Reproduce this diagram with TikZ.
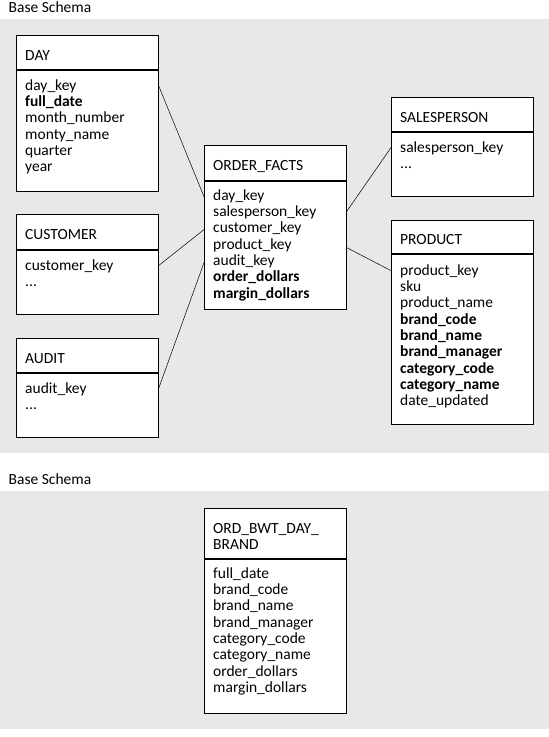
\documentclass[tikz,border=0pt]{standalone}
\usepackage{fontspec}
\setmainfont{Carlito}
\usetikzlibrary{positioning}
\definecolor{panelgray}{HTML}{E8E8E8}
\newcommand{\fstrut}{\rule{0pt}{12pt}}
\tikzset{
    tbox/.style={draw, line width=0.6pt, fill=white, anchor=north west,
        minimum width=142pt, inner sep=0pt},
    ttl/.style={anchor=north west, inner sep=0pt, align=left},
    fld/.style={anchor=north west, inner sep=0pt, align=left},
    link/.style={line width=0.5pt}
}
\begin{document}
\begin{tikzpicture}[x=1pt,y=1pt,font=\fontsize{15.5}{16.3}\selectfont]
    \useasboundingbox (0,0) rectangle (549,-737);
    \fill[panelgray] (0,-19) rectangle (549,-453);
    \fill[panelgray] (0,-491) rectangle (549,-729);
    \node[ttl, anchor=base west] (cap1) at (8.5,-12.5) {Base Schema};
    \node[ttl, anchor=base west] (cap2) at (8.5,-484) {Base Schema};

    % dimension tables on the left
    \node[tbox, minimum height=34pt] (day) at (16,-35) {};
    \node[tbox, minimum height=121pt, below=0pt of day] (dayb) {};
    \node[ttl] (dayt) at ([xshift=9pt,yshift=-13pt]day.north west) {\fstrut DAY};
    \node[fld] (dayf) at ([xshift=9pt,yshift=-8.5pt]dayb.north west)
        {\fstrut day\_key\\\textbf{full\_date}\\month\_number\\monty\_name\\quarter\\year};

    \node[tbox, minimum height=35pt] (cust) at (16,-214) {};
    \node[tbox, minimum height=64pt, below=0pt of cust] (custb) {};
    \node[ttl] (custt) at ([xshift=9pt,yshift=-13pt]cust.north west) {\fstrut CUSTOMER};
    \node[fld] (custf) at ([xshift=9pt,yshift=-8.5pt]custb.north west)
        {\fstrut customer\_key\\...};

    \node[tbox, minimum height=34pt] (audit) at (16,-338) {};
    \node[tbox, minimum height=64pt, below=0pt of audit] (auditb) {};
    \node[ttl] (auditt) at ([xshift=9pt,yshift=-13pt]audit.north west) {\fstrut AUDIT};
    \node[fld] (auditf) at ([xshift=9pt,yshift=-8.5pt]auditb.north west)
        {\fstrut audit\_key\\...};

    % fact table
    \node[tbox, minimum height=35pt] (facts) at (204,-145) {};
    \node[tbox, minimum height=128pt, below=0pt of facts] (factsb) {};
    \node[ttl] (factst) at ([xshift=9pt,yshift=-13pt]facts.north west) {\fstrut ORDER\_FACTS};
    \node[fld] (factsf) at ([xshift=9pt,yshift=-7.5pt]factsb.north west)
        {\fstrut day\_key\\salesperson\_key\\customer\_key\\product\_key\\audit\_key\\
         \textbf{order\_dollars}\\\textbf{margin\_dollars}};

    % dimension tables on the right
    \node[tbox, minimum height=34pt] (sales) at (391,-97) {};
    \node[tbox, minimum height=64pt, below=0pt of sales] (salesb) {};
    \node[ttl] (salest) at ([xshift=9pt,yshift=-13pt]sales.north west) {\fstrut SALESPERSON};
    \node[fld] (salesf) at ([xshift=9pt,yshift=-8.5pt]salesb.north west)
        {\fstrut salesperson\_key\\...};

    \node[tbox, minimum height=33pt] (prod) at (391,-220) {};
    \node[tbox, minimum height=170pt, below=0pt of prod] (prodb) {};
    \node[ttl] (prodt) at ([xshift=9pt,yshift=-12pt]prod.north west) {\fstrut PRODUCT};
    \node[fld] (prodf) at ([xshift=9pt,yshift=-9.5pt]prodb.north west)
        {\fstrut product\_key\\sku\\product\_name\\\textbf{brand\_code}\\\textbf{brand\_name}\\
         \textbf{brand\_manager}\\\textbf{category\_code}\\\textbf{category\_name}\\date\_updated};

    % joins
    \draw[link] ([yshift=-16pt]dayb.north east) -- ([yshift=-16pt]factsb.north west);
    \draw[link] ([yshift=-16pt]custb.north east) -- ([yshift=-49pt]factsb.north west);
    \draw[link] ([yshift=-16pt]auditb.north east) -- ([yshift=-82pt]factsb.north west);
    \draw[link] ([yshift=-31pt]factsb.north east) -- ([yshift=-16pt]salesb.north west);
    \draw[link] ([yshift=-67pt]factsb.north east) -- ([yshift=-17pt]prodb.north west);

    % aggregate table
    \node[tbox, minimum height=50pt] (agg) at (204,-508) {};
    \node[tbox, minimum height=154pt, below=0pt of agg] (aggb) {};
    \node[ttl] (aggt) at ([xshift=9pt,yshift=-13pt]agg.north west) {\fstrut ORD\_BWT\_DAY\_\\BRAND};
    \node[fld] (aggf) at ([xshift=9pt,yshift=-7.5pt]aggb.north west)
        {\fstrut full\_date\\brand\_code\\brand\_name\\brand\_manager\\category\_code\\
         category\_name\\order\_dollars\\margin\_dollars};
\end{tikzpicture}
\end{document}
